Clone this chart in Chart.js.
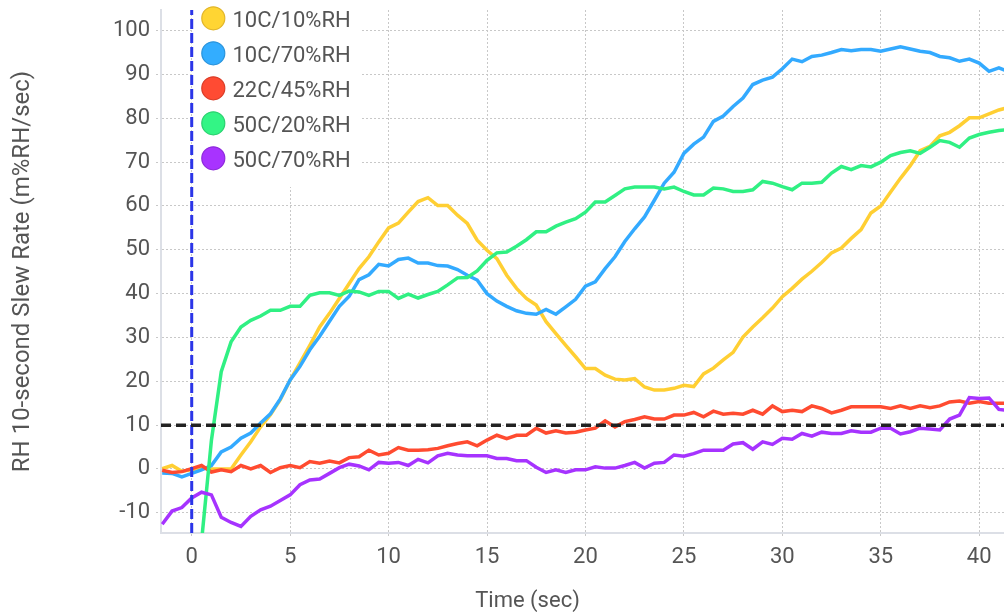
<!DOCTYPE html>
<html>
<head>
<meta charset="utf-8">
<title>RH 10-second Slew Rate</title>
<script src="https://cdn.jsdelivr.net/npm/chart.js@4/dist/chart.umd.min.js"></script>
<style>
  html, body { margin: 0; padding: 0; background: #ffffff; overflow: hidden; }
  #wrap { width: 1004px; height: 616px; position: relative; }
</style>
</head>
<body>
<div id="wrap"><canvas id="chart" width="1004" height="616"></canvas></div>
<script>
// Sample times (seconds), one sample every half second
const timeSec = [
  -1.5, -1, -0.5, 0, 0.5, 1, 1.5, 2, 2.5, 3, 3.5, 4, 4.5, 5, 5.5, 6, 6.5, 7, 7.5, 8,
  8.5, 9, 9.5, 10, 10.5, 11, 11.5, 12, 12.5, 13, 13.5, 14, 14.5, 15, 15.5, 16, 16.5, 17, 17.5, 18,
  18.5, 19, 19.5, 20, 20.5, 21, 21.5, 22, 22.5, 23, 23.5, 24, 24.5, 25, 25.5, 26, 26.5, 27, 27.5, 28,
  28.5, 29, 29.5, 30, 30.5, 31, 31.5, 32, 32.5, 33, 33.5, 34, 34.5, 35, 35.5, 36, 36.5, 37, 37.5, 38,
  38.5, 39, 39.5, 40, 40.5, 41, 41.5
];

// 10-second RH slew rate per condition (m%RH/sec)
const slew10C10RH = [
  0.1, 0.8, -0.5, -0.2, 0.3, 0, 0, 0, 3.2, 6.2, 9.6, 12.4, 15.8, 20.3, 24.2, 28.2, 32.4, 35.5, 38.9, 42.3,
  45.7, 48.4, 51.8, 55.0, 56.1, 58.6, 61.0, 61.9, 60.1, 60.1, 57.9, 56.0, 52.2, 49.9, 48.0, 44.2, 41.2, 38.9, 37.4, 33.6,
  30.9, 28.2, 25.6, 22.9, 22.9, 21.4, 20.5, 20.3, 20.6, 18.7, 18.0, 18.0, 18.4, 19.1, 18.8, 21.7, 23.0, 24.9, 26.6, 30.1,
  32.4, 34.5, 36.7, 39.3, 41.2, 43.3, 45.1, 47.1, 49.3, 50.4, 52.6, 54.6, 58.4, 60.0, 63.2, 66.3, 69.2, 72.6, 73.6, 76.0,
  76.8, 78.3, 80.1, 80.1, 81.0, 81.9, 82.5
];
const slew10C70RH = [
  -0.9, -1.0, -1.8, -1.0, -0.2, 0.8, 3.9, 5.0, 7.0, 8.2, 10.5, 12.6, 16.0, 20.3, 23.4, 27.2, 30.3, 33.7, 37.1, 39.4,
  43.2, 44.3, 46.7, 46.3, 47.8, 48.1, 47.0, 47.0, 46.4, 46.3, 45.5, 44.2, 43.1, 40.0, 38.3, 37.1, 36.1, 35.5, 35.3, 36.4,
  35.3, 37.0, 38.7, 41.7, 42.7, 45.7, 48.4, 51.9, 54.8, 57.5, 61.3, 65.2, 67.7, 72.0, 74.1, 75.7, 79.3, 80.5, 82.7, 84.6,
  87.7, 88.7, 89.4, 91.3, 93.5, 92.9, 94.1, 94.4, 95.0, 95.7, 95.4, 95.7, 95.7, 95.3, 95.8, 96.3, 95.8, 95.3, 95.0, 94.1,
  93.8, 93.0, 93.5, 92.6, 90.7, 91.5, 90.6
];
const slew22C45RH = [
  -0.3, -0.8, -0.6, 0.1, 0.8, -0.7, -0.2, -0.6, 0.8, 0.0, 0.8, -0.8, 0.3, 0.8, 0.3, 1.7, 1.3, 1.8, 1.4, 2.6,
  2.8, 4.3, 3.2, 3.6, 4.9, 4.3, 4.3, 4.4, 4.7, 5.3, 5.8, 6.2, 5.3, 6.6, 7.7, 6.9, 7.7, 7.7, 9.3, 8.2,
  8.7, 8.2, 8.4, 8.9, 9.3, 11.0, 9.6, 10.8, 11.3, 11.9, 11.4, 11.4, 12.3, 12.3, 12.9, 11.9, 13.2, 12.5, 12.7, 12.5,
  13.4, 12.5, 14.4, 13.1, 13.4, 13.1, 14.4, 13.8, 12.8, 13.4, 14.2, 14.2, 14.2, 14.2, 13.8, 14.4, 13.8, 14.4, 14.0, 14.4,
  15.3, 15.5, 15.0, 15.4, 15.0, 15.0, 15.0
];
const slew50C20RH = [
  null, null, null, null, -16.5, 6.5, 22.2, 29.0, 32.4, 33.9, 34.9, 36.2, 36.2, 37.1, 37.1, 39.6, 40.2, 40.2, 39.6, 40.6,
  40.4, 39.6, 40.5, 40.5, 38.9, 39.9, 39.0, 39.8, 40.5, 42.0, 43.6, 43.7, 45.2, 47.6, 49.3, 49.5, 50.8, 52.3, 54.1, 54.1,
  55.4, 56.3, 57.1, 58.6, 60.9, 60.9, 62.4, 63.9, 64.3, 64.3, 64.3, 63.9, 64.3, 63.3, 62.5, 62.5, 64.1, 63.9, 63.3, 63.3,
  63.7, 65.6, 65.2, 64.4, 63.7, 65.2, 65.2, 65.4, 67.5, 69.0, 68.3, 69.2, 68.9, 70.0, 71.5, 72.2, 72.6, 72.0, 73.4, 74.9,
  74.5, 73.4, 75.5, 76.3, 76.8, 77.2, 77.4
];
const slew50C70RH = [
  -12.6, -9.6, -8.8, -6.6, -5.3, -5.9, -11.0, -12.2, -13.1, -10.8, -9.3, -8.5, -7.2, -5.9, -3.6, -2.5, -2.3, -1.0, 0.3, 1.1,
  0.7, -0.2, 1.5, 1.3, 1.5, 0.8, 2.2, 1.4, 3.0, 3.6, 3.2, 3.0, 3.0, 3.0, 2.4, 2.4, 1.9, 1.9, 0.4, -0.8,
  -0.2, -0.8, -0.2, -0.2, 0.5, 0.2, 0.2, 0.8, 1.5, 0.2, 1.3, 1.5, 3.2, 2.9, 3.5, 4.3, 4.3, 4.3, 5.7, 6.0,
  4.5, 6.2, 5.6, 7.0, 6.8, 8.1, 7.5, 8.4, 8.1, 8.1, 8.7, 8.4, 8.4, 9.3, 9.3, 8.0, 8.5, 9.3, 9.1, 8.9,
  11.4, 12.3, 16.3, 16.1, 16.2, 13.6, 13.3
];

const seriesLabels = ['10C/10%RH', '10C/70%RH', '22C/45%RH', '50C/20%RH', '50C/70%RH'];
const seriesValues = [slew10C10RH, slew10C70RH, slew22C45RH, slew50C20RH, slew50C70RH];

// Axis ticks and limits
const xTicks = [0, 5, 10, 15, 20, 25, 30, 35, 40];
const yTicks = [-10, 0, 10, 20, 30, 40, 50, 60, 70, 80, 90, 100];
const X_MIN = -1.56, X_MAX = 41.26;
const Y_MIN = -14.6, Y_MAX = 104.7;

// Reference markers: pass/fail threshold and the moment of the humidity step
const thresholdRate = 10;
const stepTime = 0;

// Styling
const lineColors = ['#FFCF33', '#33AAFF', '#FF4B30', '#30F083', '#A633FF'];
const swatchFill = ['#FFD533', '#33ADFF', '#FF4B33', '#33F585', '#A833FF'];
const swatchEdge = ['#E2B62A', '#2B94DC', '#DB3D28', '#2BD270', '#8E2ADC'];
const FONT = 'Roboto';
const TEXT = '#555555';

function toPoints(values) {
  return timeSec.map((t, i) => ({ x: t, y: values[i] }));
}

const datasets = seriesValues.map((vals, i) => ({
  label: seriesLabels[i],
  data: toPoints(vals),
  borderColor: lineColors[i],
  backgroundColor: swatchFill[i],
  borderWidth: 3.5,
  pointRadius: 0,
  tension: 0,
  clip: 0,
  order: 5 - i + 1
}));

datasets.push({
  label: 'threshold',
  data: [{ x: X_MIN, y: thresholdRate }, { x: X_MAX, y: thresholdRate }],
  borderColor: '#222222',
  borderWidth: 3.5,
  borderDash: [10, 5],
  pointRadius: 0,
  clip: 0,
  order: 0
});
datasets.push({
  label: 'step',
  data: [{ x: stepTime, y: Y_MIN }, { x: stepTime, y: Y_MAX }],
  borderColor: '#2B35E8',
  borderWidth: 3,
  borderDash: [10, 4],
  pointRadius: 0,
  clip: 0,
  order: 0
});

// Legend box inside the plot and the axis titles
const overlay = {
  id: 'overlay',
  afterDraw(chart) {
    const ctx = chart.ctx;
    ctx.save();
    ctx.fillStyle = '#ffffff';
    ctx.fillRect(194, 10, 167, 177);
    ctx.font = '22px ' + FONT;
    ctx.textAlign = 'left';
    ctx.textBaseline = 'alphabetic';
    seriesLabels.forEach((label, i) => {
      const cy = 18.3 + 35 * i;
      ctx.beginPath();
      ctx.arc(213.3, cy, 11.5, 0, Math.PI * 2);
      ctx.fillStyle = swatchFill[i];
      ctx.fill();
      ctx.lineWidth = 1.2;
      ctx.strokeStyle = swatchEdge[i];
      ctx.stroke();
      ctx.fillStyle = TEXT;
      ctx.fillText(label, 232.5, cy + 8.4);
    });

    ctx.textAlign = 'center';
    ctx.fillStyle = TEXT;
    ctx.font = '22px ' + FONT;
    ctx.fillText('Time (sec)', 527.5, 607);

    const area = chart.chartArea;
    ctx.translate(23, (area.top + area.bottom) / 2);
    ctx.rotate(-Math.PI / 2);
    ctx.textBaseline = 'middle';
    ctx.font = '24px ' + FONT;
    ctx.fillText('RH 10-second Slew Rate (m%RH/sec)', 0, 0);
    ctx.restore();
  }
};

const gridStyle = { color: '#c8c8c8', lineWidth: 1, tickLength: 5, drawTicks: true, tickColor: '#c8c8c8', tickBorderDash: [2, 2] };
const borderStyle = { display: true, color: '#dcdfe6', width: 2, dash: [2, 2] };
const tickFont = { family: FONT, size: 22 };

new Chart(document.getElementById('chart'), {
  type: 'line',
  data: { datasets },
  options: {
    responsive: false,
    animation: false,
    layout: { padding: { left: 0, right: 0, top: 10, bottom: 0 } },
    plugins: { legend: { display: false }, tooltip: { enabled: false } },
    scales: {
      x: {
        type: 'linear',
        min: X_MIN,
        max: X_MAX,
        afterBuildTicks: s => { s.ticks = xTicks.map(v => ({ value: v })); },
        afterFit: s => { s.height = 83; s.paddingLeft = 0; s.paddingRight = 0; },
        grid: gridStyle,
        border: borderStyle,
        ticks: { color: TEXT, font: tickFont, padding: 6, maxRotation: 0, autoSkip: false }
      },
      y: {
        type: 'linear',
        min: Y_MIN,
        max: Y_MAX,
        afterBuildTicks: s => { s.ticks = yTicks.map(v => ({ value: v })); },
        afterFit: s => { s.width = 161; s.paddingTop = 0; s.paddingBottom = 0; },
        grid: gridStyle,
        border: borderStyle,
        ticks: { color: TEXT, font: tickFont, padding: 6, autoSkip: false }
      }
    }
  },
  plugins: [overlay]
});
</script>
</body>
</html>
